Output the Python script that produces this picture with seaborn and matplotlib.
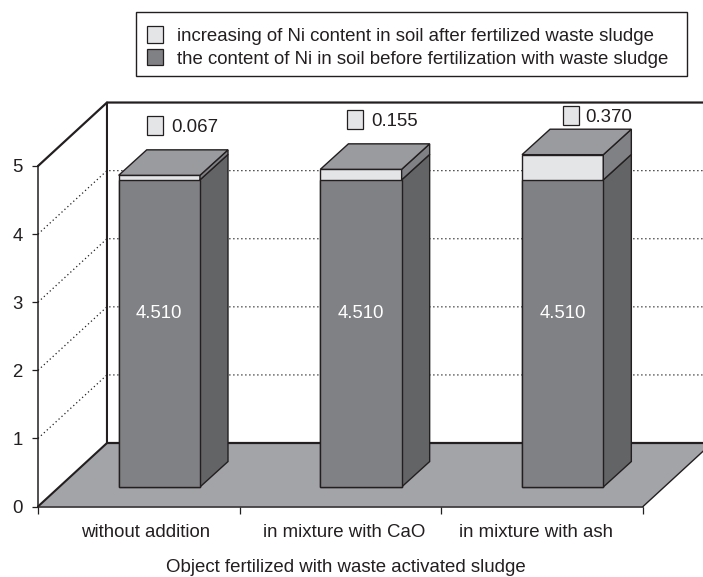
import matplotlib
matplotlib.use('Agg')
import matplotlib.pyplot as plt
from matplotlib.patches import Patch, Polygon, Rectangle
import pandas as pd
import seaborn as sns

categories = ['without addition', 'in mixture with CaO', 'in mixture with ash']
before = [4.510, 4.510, 4.510]
increase = [0.067, 0.155, 0.370]
y_ticks = [0, 1, 2, 3, 4, 5]
legend_labels = ['increasing of Ni content in soil after fertilized waste sludge',
                 'the content of Ni in soil before fertilization with waste sludge']
x_title = 'Object fertilized with waste activated sludge'

# figure size in pixels, everything below is placed relative to it
W, H = 703, 577
sns.set_theme(style='white')
plt.rcParams['font.family'] = ['Liberation Sans', 'DejaVu Sans']
TEXT = '#231f20'
FS = 13.4
DARK, DARK_SIDE = '#808184', '#636466'
LIGHT, LIGHT_SIDE = '#e4e5e7', '#808184'
TOP, FLOOR = '#9a9b9e', '#a3a4a7'

df = pd.DataFrame({'object': categories, 'before': before, 'increase': increase})
df['total'] = df['before'] + df['increase']

fig = plt.figure(figsize=(W / 100, H / 100), dpi=100)
rect = [38 / W, (H - 506.5) / H, 605 / W, 340.5 / H]
ax = fig.add_axes(rect)
ax.set_xlim(-0.5, 2.5)
ax.set_ylim(0, 5)
ax.patch.set_alpha(0)

# oblique offset of back wall
wall_dx, wall_dy = 0.342, 0.932
x0, x1 = -0.5, 2.5
ax.add_patch(Polygon([(x0, 0), (x0 + wall_dx, wall_dy), (x1 + wall_dx, wall_dy), (x1, 0)],
                     closed=True, fc=FLOOR, ec='none', clip_on=False, zorder=1))
for k in y_ticks[1:-1]:
    ax.plot([x0, x0 + wall_dx, x1 + wall_dx], [k, k + wall_dy, k + wall_dy], color=TEXT,
            lw=0.9, ls=(0, (1, 2.2)), clip_on=False, zorder=1.5)
ax.plot([x0, x0 + wall_dx, x0 + wall_dx], [0, wall_dy, 5 + wall_dy], color=TEXT, lw=1.5, clip_on=False, zorder=2)
ax.plot([x0, x0 + wall_dx, x1 + wall_dx], [5, 5 + wall_dy, 5 + wall_dy], color=TEXT, lw=1.6, clip_on=False, zorder=2)
ax.plot([x0 + wall_dx, x1 + wall_dx], [wall_dy, wall_dy], color=TEXT, lw=1.6, clip_on=False, zorder=2)
ax.plot([x1, x1 + wall_dx], [0, wall_dy], color=TEXT, lw=1, clip_on=False, zorder=2)

for s in ['top', 'right']:
    ax.spines[s].set_visible(False)
for s in ['left', 'bottom']:
    ax.spines[s].set_visible(True)
    ax.spines[s].set_color(TEXT)
    ax.spines[s].set_linewidth(1.1)
ax.set_yticks(y_ticks)
ax.tick_params(axis='y', left=True, length=4.5, width=0.9, color=TEXT, labelcolor=TEXT, labelsize=FS, pad=6.5)
# labels are not quite at the middle of their category in the original
ax.set_xticks([0.035, 1.017, 1.97], categories)
ax.set_xticks([-0.5, 0.5, 1.5, 2.5], minor=True)
ax.tick_params(axis='x', which='major', bottom=False, labelcolor=TEXT, labelsize=FS, pad=6.5)
ax.tick_params(axis='x', which='minor', bottom=True, length=5, width=0.9, color=TEXT)
ax.set_xlabel('')
fig.text(345.5 / W, (H - 567) / H, x_title, ha='center', va='center', color=TEXT, fontsize=FS)

# bars stand on the floor, so their axes is shifted towards the back wall
rect2 = [(38 + 20.5) / W, (H - 487) / H, 605 / W, 340.5 / H]
ax_bars = fig.add_axes(rect2)
sns.barplot(data=df, x='object', y='total', color=LIGHT, saturation=1, width=0.403,
            edgecolor=TEXT, linewidth=1, ax=ax_bars, zorder=3)
sns.barplot(data=df, x='object', y='before', color=DARK, saturation=1, width=0.403,
            edgecolor=TEXT, linewidth=1, ax=ax_bars, zorder=4)
ax_bars.set_xlim(-0.5, 2.5)
ax_bars.set_ylim(0, 5)
ax_bars.axis('off')
for bar in ax_bars.patches:
    bar.set_clip_on(False)

bar_dx, bar_dy = 0.139, 0.374
half = 0.403 / 2
key_w, key_h = 0.077, 0.28
label_dx = [-0.022, -0.03, 0.042]
label_dy = [0.353, 0.36, 0.206]
text_dx = [11.5, 11.5, 10]
for i, row in df.iterrows():
    l, r = i - half, i + half
    b, t = row['before'], row['total']
    ax_bars.add_patch(Polygon([(r, 0), (r + bar_dx, bar_dy), (r + bar_dx, b + bar_dy), (r, b)], closed=True,
                              fc=DARK_SIDE, ec=TEXT, lw=1, clip_on=False, zorder=3))
    ax_bars.add_patch(Polygon([(r, b), (r + bar_dx, b + bar_dy), (r + bar_dx, t + bar_dy), (r, t)], closed=True,
                              fc=LIGHT_SIDE, ec=TEXT, lw=1, clip_on=False, zorder=3))
    ax_bars.add_patch(Polygon([(l, t), (l + bar_dx, t + bar_dy), (r + bar_dx, t + bar_dy), (r, t)], closed=True,
                              fc=TOP, ec=TEXT, lw=1, clip_on=False, zorder=3))
    ax_bars.text(i, b * 0.566, f'{b:.3f}', color='white', ha='center', va='center', fontsize=FS, zorder=6)
    # small key square and value above each bar
    kx = i + label_dx[i]
    ky = t + bar_dy + label_dy[i]
    ax_bars.add_patch(Rectangle((kx - key_w / 2, ky - key_h / 2), key_w, key_h, fc=LIGHT, ec=TEXT, lw=0.9,
                                clip_on=False, zorder=6))
    ax_bars.annotate(f"{row['increase']:.3f}", (kx, ky), xytext=(text_dx[i], -1.5), textcoords='offset points',
                     color=TEXT, ha='left', va='center', fontsize=FS, annotation_clip=False, zorder=6)

# legend box is drawn apart, the padding of the original is not even on all sides
fig.add_artist(Rectangle((136 / W, (H - 76) / H), 550.5 / W, 64.5 / H, transform=fig.transFigure,
                         fc='white', ec=TEXT, lw=1))
handles = [Patch(fc=LIGHT, ec=TEXT, lw=0.9), Patch(fc=DARK, ec=TEXT, lw=0.9)]
leg = fig.legend(handles, legend_labels, loc='upper left',
                 bbox_to_anchor=(147 / W, (H - 26) / H), bbox_transform=fig.transFigure,
                 frameon=False, fontsize=FS, handlelength=0.86, handleheight=1.0, handletextpad=0.75,
                 labelspacing=0.22, borderaxespad=0, borderpad=0, labelcolor=TEXT)

fig.savefig('out.png', dpi=100)
